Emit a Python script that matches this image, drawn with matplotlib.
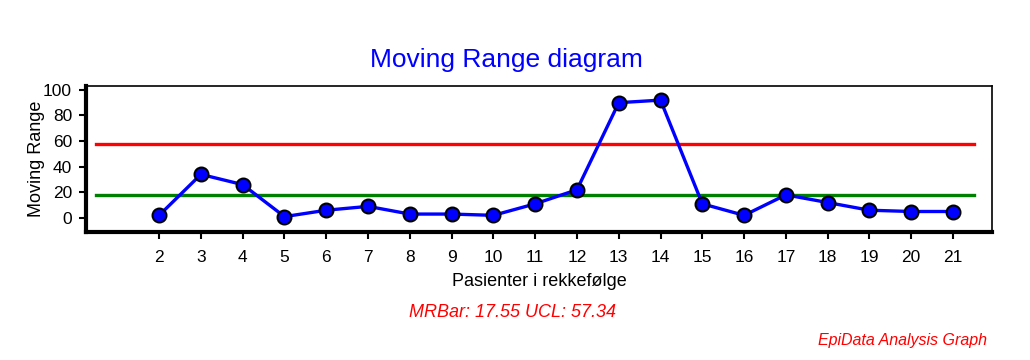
import matplotlib
matplotlib.use("Agg")
import matplotlib.pyplot as plt

plt.rcParams['font.family'] = ['Liberation Sans', 'DejaVu Sans']

patients = [2, 3, 4, 5, 6, 7, 8, 9, 10, 11, 12, 13, 14, 15, 16, 17, 18, 19, 20, 21]
moving_range = [2, 34, 26, 1, 6, 9, 3, 3, 2, 11, 22, 90, 92, 11, 2, 18, 12, 6, 5, 5]
mr_bar = 17.55
ucl = 57.34
y_ticks = [0, 20, 40, 60, 80, 100]

fig = plt.figure(figsize=(10.3, 3.6), dpi=100)
ax = fig.add_axes([0.0835, 0.3556, 0.8795, 0.4054])

ax.plot([0.5, 21.5], [ucl, ucl], color='#ff0000', lw=2.4, zorder=2)
ax.plot([0.5, 21.5], [mr_bar, mr_bar], color='#008000', lw=2.4, zorder=2)
ax.plot(patients, moving_range, color='#0000ff', lw=2.4, marker='o', ms=10,
        mfc='#0000ff', mec='black', mew=1.5, zorder=3)

ax.set_xlim(0.25, 21.93)
ax.set_ylim(-11, 103)
ax.set_xticks(patients)
ax.set_xticklabels([str(p) for p in patients])
ax.set_yticks(y_ticks)
ax.tick_params(axis='both', labelsize=12.5, length=5, width=1.5, direction='out', color='black')
ax.tick_params(axis='x', pad=8)
ax.tick_params(axis='y', pad=5)
for s in ['top', 'right']:
    ax.spines[s].set_linewidth(1.2)
for s in ['left', 'bottom']:
    ax.spines[s].set_linewidth(3)

ax.set_xlabel('Pasienter i rekkefølge', fontsize=13, labelpad=6)
ax.set_ylabel('Moving Range', fontsize=13, labelpad=-1)

fig.text(0.492, 0.833, 'Moving Range diagram', color='#0000ff', fontsize=19, ha='center', va='center')
fig.text(0.498, 0.133, 'MRBar: 17.55 UCL: 57.34', color='#ff0000', fontsize=13, style='italic', ha='center', va='center')
fig.text(0.876, 0.055, 'EpiData Analysis Graph', color='#ff0000', fontsize=11.5, style='italic', ha='center', va='center')

fig.savefig('out.png', dpi=100)
